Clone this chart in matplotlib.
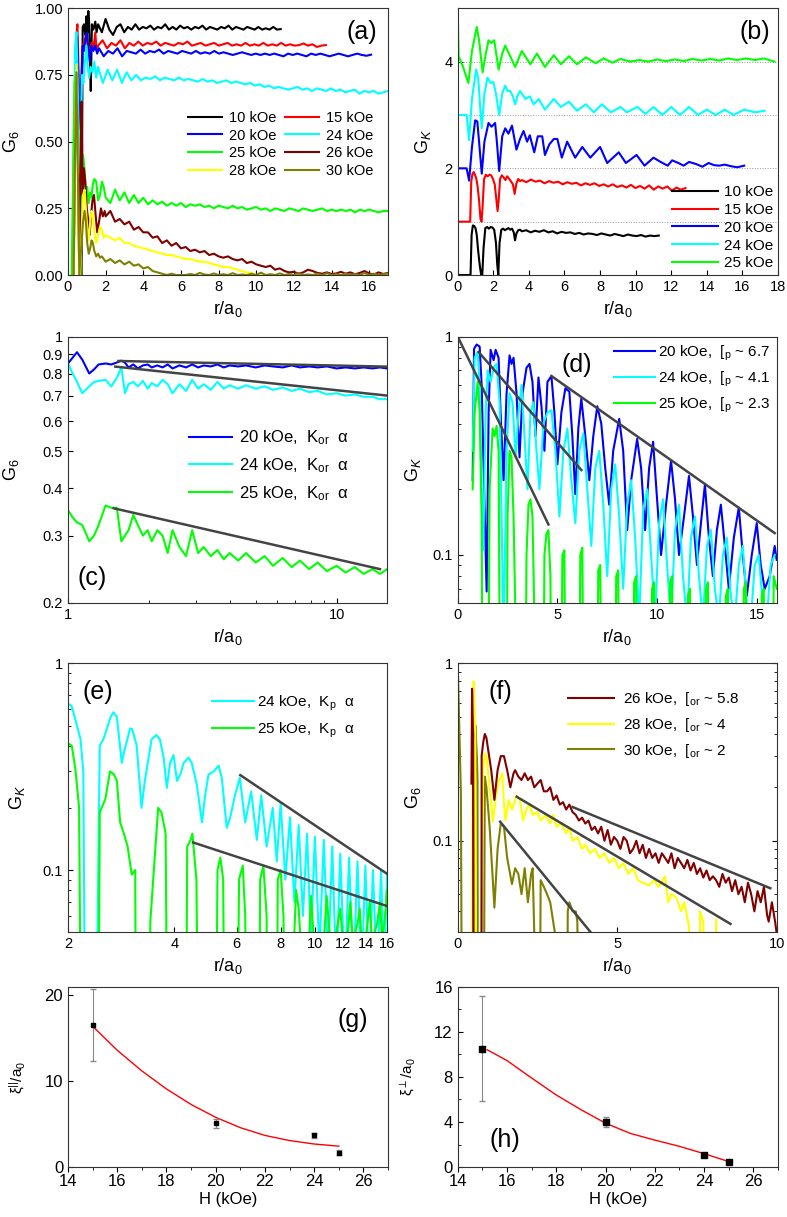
import numpy as np
import matplotlib
matplotlib.use('Agg')
from matplotlib import pyplot as plt
from matplotlib.ticker import FixedLocator, FixedFormatter, NullFormatter, MultipleLocator

plt.rcParams['font.family'] = ['Liberation Sans', 'DejaVu Sans']
plt.rcParams['mathtext.fontset'] = 'custom'
plt.rcParams['mathtext.rm'] = 'Liberation Sans'
plt.rcParams['mathtext.it'] = 'Liberation Sans:italic'
plt.rcParams['xtick.direction'] = 'in'
plt.rcParams['ytick.direction'] = 'in'
plt.rcParams['axes.edgecolor'] = '#333333'
plt.rcParams['xtick.labelsize'] = 10.5
plt.rcParams['ytick.labelsize'] = 10.5

# colours per field
col = {'10': 'black', '15': '#ff0000', '20': '#0000ff', '24': '#00ffff',
       '25': '#00ff00', '26': '#800000', '28': '#ffff00', '30': '#808000'}
fitcol = '#444444'


def trace(hx, hy, x0, x1, ty):
    # explicit head points + evenly spaced read-off tail values
    return list(hx) + list(np.linspace(x0, x1, len(ty))), list(hy) + list(ty)


# ---------------- (a) G6 vs r/a0 ----------------
a10_hx = [0.72, 0.78, 0.85, 0.92, 0.98, 1.03, 1.08, 1.12, 1.17, 1.21, 1.27, 1.35, 1.45, 1.52]
a10_hy = [0.0, 0.93, 0.94, 0.90, 0.97, 0.91, 0.99, 0.95, 0.80, 0.69, 0.94, 0.92, 0.95, 0.91]
a10_ty = [0.94, 0.91, 0.96, 0.92, 0.90, 0.93, 0.94, 0.91, 0.93, 0.92,
          0.94, 0.92, 0.93, 0.925, 0.935, 0.92, 0.93, 0.925, 0.94, 0.92,
          0.93, 0.92, 0.935, 0.925, 0.93, 0.92, 0.93, 0.925, 0.935, 0.92,
          0.93, 0.925, 0.92, 0.93, 0.925, 0.935, 0.92, 0.93, 0.925, 0.92,
          0.93, 0.925, 0.92, 0.93, 0.92, 0.925, 0.92, 0.93, 0.92, 0.922]
a15_hx = [0.28, 0.35, 0.42, 0.5, 0.55, 0.6, 0.68, 0.75, 0.85, 0.95, 1.05, 1.15, 1.25, 1.35, 1.45, 1.52]
a15_hy = [0.0, 0.5, 0.88, 0.94, 0.80, 0.5, 0.6, 0.85, 0.87, 0.90, 0.86, 0.84, 0.87, 0.85, 0.91, 0.84]
a15_ty = [0.86, 0.88, 0.85, 0.87, 0.86, 0.88, 0.85, 0.87, 0.86, 0.875,
          0.86, 0.87, 0.865, 0.875, 0.86, 0.87, 0.865, 0.86, 0.87, 0.865,
          0.875, 0.86, 0.865, 0.87, 0.86, 0.865, 0.87, 0.86, 0.865, 0.87,
          0.86, 0.865, 0.86, 0.87, 0.86, 0.865, 0.86, 0.87, 0.86, 0.865,
          0.86, 0.87, 0.86, 0.865, 0.86, 0.862, 0.868, 0.86, 0.865, 0.855, 0.86, 0.862]
a20_hx = [0.25, 0.32, 0.4, 0.48, 0.55, 0.62, 0.7, 0.78, 0.85, 0.92, 1.0, 1.08, 1.15, 1.25, 1.35, 1.45, 1.55]
a20_hy = [0.0, 0.45, 0.82, 0.90, 0.75, 0.45, 0.70, 0.86, 0.84, 0.88, 0.91, 0.85, 0.80, 0.86, 0.84, 0.86, 0.83]
a20_ty = [0.85, 0.82, 0.84, 0.83, 0.85, 0.82, 0.84, 0.835, 0.83, 0.845,
          0.83, 0.84, 0.835, 0.845, 0.83, 0.84, 0.835, 0.83, 0.84, 0.835,
          0.83, 0.84, 0.83, 0.835, 0.83, 0.84, 0.83, 0.835, 0.83, 0.825,
          0.83, 0.835, 0.83, 0.825, 0.83, 0.825, 0.83, 0.825, 0.83, 0.825,
          0.82, 0.83, 0.825, 0.83, 0.825, 0.82, 0.83, 0.825, 0.83, 0.825,
          0.82, 0.825, 0.83, 0.825, 0.82, 0.825, 0.83, 0.825, 0.822, 0.826]
a24_hx = [0.22, 0.3, 0.38, 0.45, 0.52, 0.6, 0.68, 0.75, 0.82, 0.9, 0.98, 1.05, 1.12, 1.2, 1.3, 1.4, 1.5]
a24_hy = [0.0, 0.5, 0.85, 0.91, 0.70, 0.40, 0.55, 0.75, 0.72, 0.80, 0.86, 0.78, 0.74, 0.78, 0.76, 0.80, 0.74]
a24_ty = [0.78, 0.72, 0.77, 0.73, 0.77, 0.72, 0.76, 0.73, 0.75, 0.73,
          0.74, 0.735, 0.745, 0.73, 0.74, 0.735, 0.73, 0.74, 0.73, 0.735,
          0.73, 0.725, 0.735, 0.725, 0.73, 0.72, 0.725, 0.73, 0.72, 0.725,
          0.72, 0.715, 0.72, 0.71, 0.715, 0.705, 0.71, 0.70, 0.705, 0.70,
          0.695, 0.70, 0.705, 0.695, 0.70, 0.69, 0.70, 0.695, 0.69, 0.70,
          0.69, 0.695, 0.685, 0.69, 0.695, 0.68, 0.69, 0.685, 0.69, 0.68, 0.685, 0.69]
a25_hx = [0.2, 0.28, 0.35, 0.42, 0.5, 0.57, 0.65, 0.72, 0.8, 0.87, 0.95, 1.02, 1.1, 1.18, 1.25, 1.32,
          1.4, 1.5, 1.6, 1.7, 1.8, 1.9]
a25_hy = [0.0, 0.4, 0.72, 0.75, 0.55, 0.2, 0.0, 0.2, 0.45, 0.40, 0.30, 0.33, 0.27, 0.31, 0.29, 0.34,
          0.36, 0.35, 0.28, 0.30, 0.35, 0.33]
a25_ty = [0.29, 0.27, 0.32, 0.28, 0.31, 0.27, 0.30, 0.27, 0.29, 0.265,
          0.28, 0.265, 0.275, 0.26, 0.27, 0.26, 0.27, 0.255, 0.265, 0.26,
          0.265, 0.255, 0.26, 0.25, 0.26, 0.255, 0.25, 0.26, 0.25, 0.255,
          0.245, 0.25, 0.255, 0.245, 0.25, 0.24, 0.25, 0.245, 0.24, 0.25,
          0.245, 0.24, 0.25, 0.245, 0.24, 0.245, 0.25, 0.24, 0.245, 0.24,
          0.245, 0.24, 0.245, 0.235, 0.245, 0.24, 0.245, 0.24, 0.235, 0.24, 0.24]
a26_hx = [0.3, 0.38, 0.45, 0.52, 0.6, 0.66, 0.72, 0.78, 0.85, 0.92, 1.0, 1.08, 1.15, 1.22, 1.3, 1.38,
          1.45, 1.55, 1.65, 1.75, 1.85, 1.95]
a26_hy = [0.0, 0.5, 0.75, 0.50, 0.0, 0.4, 0.65, 0.30, 0.40, 0.35, 0.25, 0.20, 0.15, 0.22, 0.28, 0.30,
          0.24, 0.16, 0.20, 0.25, 0.22, 0.24]
a26_ty = [0.22, 0.24, 0.20, 0.21, 0.19, 0.20, 0.17, 0.18, 0.16, 0.16,
          0.14, 0.145, 0.12, 0.13, 0.11, 0.12, 0.10, 0.105, 0.09, 0.095,
          0.085, 0.09, 0.075, 0.08, 0.07, 0.065, 0.07, 0.06, 0.055, 0.06,
          0.045, 0.05, 0.04, 0.035, 0.03, 0.035, 0.02, 0.025, 0.015, 0.01,
          0.012, 0.005, 0.01, 0.02, 0.015, 0.008, 0.005, 0.01, 0.004, 0.006,
          0.012, 0.005, 0.01, 0.003, 0.008, 0.015, 0.006, 0.002, 0.01, 0.004, 0.008]
a28_hx = [0.3, 0.38, 0.45, 0.52, 0.58, 0.65, 0.72, 0.8, 0.88, 0.95, 1.02, 1.1, 1.18, 1.25, 1.32, 1.4,
          1.5, 1.6, 1.7, 1.8, 1.9]
a28_hy = [0.0, 0.55, 0.79, 0.45, 0.0, 0.0, 0.15, 0.30, 0.32, 0.25, 0.18, 0.13, 0.20, 0.24, 0.22, 0.16,
          0.12, 0.15, 0.18, 0.17, 0.14]
a28_ty = [0.15, 0.14, 0.13, 0.14, 0.12, 0.12, 0.11, 0.105, 0.10, 0.095,
          0.09, 0.085, 0.08, 0.075, 0.075, 0.07, 0.065, 0.06, 0.06, 0.055,
          0.05, 0.05, 0.045, 0.04, 0.035, 0.03, 0.03, 0.025, 0.02, 0.015,
          0.01, 0.008, 0.0, 0.0, 0.0]
a30_hx = [0.3, 0.38, 0.45, 0.52, 0.6, 0.7, 0.8, 0.88, 0.95, 1.02, 1.1, 1.18, 1.25, 1.32, 1.4, 1.5,
          1.6, 1.7, 1.8, 1.9]
a30_hy = [0.0, 0.5, 0.76, 0.40, 0.0, 0.1, 0.20, 0.24, 0.20, 0.12, 0.08, 0.10, 0.13, 0.12, 0.09, 0.07,
          0.08, 0.065, 0.07, 0.06]
a30_ty = [0.05, 0.06, 0.045, 0.055, 0.04, 0.05, 0.035, 0.04, 0.025, 0.03, 0.015, 0.01, 0.005, 0.0,
          0.005, 0.0, 0.0,
          0.0, 0.004, 0.0, 0.008, 0.002, 0.0, 0.006, 0.0, 0.003, 0.0,
          0.007, 0.0, 0.002, 0.0, 0.005, 0.0, 0.009, 0.0, 0.003, 0.0,
          0.006, 0.0, 0.004, 0.0, 0.008, 0.0, 0.002, 0.0, 0.005, 0.0,
          0.007, 0.0, 0.003, 0.0, 0.006, 0.0, 0.004, 0.0, 0.008, 0.0,
          0.005, 0.0, 0.003, 0.006]

# ---------------- (b) GK, offset curves ----------------
b10_hx = [0, 0.72, 0.78, 0.85, 0.92, 1.0, 1.07, 1.15, 1.25, 1.32, 1.38, 1.45, 1.55, 1.65, 1.75, 1.85,
          1.95, 2.05, 2.15, 2.22, 2.28, 2.35, 2.45, 2.55, 2.65, 2.75, 2.85, 2.95, 3.05, 3.15, 3.22,
          3.3, 3.4, 3.5]
b10_hy = [0, 0, 0.75, 0.93, 0.92, 0.88, 0.75, 0.45, 0.15, 0.0, 0.0, 0.5, 0.88, 0.90, 0.87, 0.90,
          0.89, 0.85, 0.6, 0.2, 0.0, 0.6, 0.85, 0.87, 0.84, 0.86, 0.88, 0.85, 0.87, 0.80, 0.65,
          0.78, 0.84, 0.85]
b10_ty = [0.82, 0.84, 0.80, 0.83, 0.81, 0.84, 0.80, 0.82, 0.78, 0.81,
          0.79, 0.80, 0.77, 0.79, 0.76, 0.78, 0.77, 0.75, 0.78, 0.76,
          0.74, 0.77, 0.75, 0.73, 0.76, 0.74, 0.73, 0.75, 0.72, 0.74, 0.73, 0.74]
b15_hx = [0, 0.7, 0.76, 0.83, 0.9, 0.97, 1.05, 1.12, 1.2, 1.28, 1.34, 1.4, 1.48, 1.58, 1.68, 1.78,
          1.88, 1.98, 2.08, 2.16, 2.24, 2.3, 2.38, 2.48, 2.58, 2.68, 2.78, 2.9, 3.0, 3.1, 3.2,
          3.3, 3.4, 3.5]
b15_hy = [1, 1, 1.75, 1.90, 1.93, 1.88, 1.80, 1.65, 1.40, 1.05, 1.0, 1.3, 1.80, 1.88, 1.85, 1.88,
          1.87, 1.80, 1.70, 1.45, 1.20, 1.4, 1.80, 1.87, 1.83, 1.78, 1.85, 1.80, 1.75, 1.70, 1.52,
          1.72, 1.80, 1.76]
b15_ty = [1.78, 1.74, 1.79, 1.75, 1.77, 1.72, 1.76, 1.73, 1.75, 1.70,
          1.74, 1.71, 1.73, 1.68, 1.72, 1.69, 1.72, 1.67, 1.70, 1.66,
          1.70, 1.65, 1.68, 1.64, 1.69, 1.63, 1.67, 1.62, 1.68, 1.60,
          1.66, 1.62, 1.66, 1.58, 1.64, 1.60, 1.63]
b20_x = [0, 0, 0.5, 0.64, 0.8, 0.98, 1.1, 1.2, 1.35, 1.5, 1.73, 1.9, 2.1, 2.2, 2.33, 2.5, 2.67, 2.85,
         3.05, 3.3, 3.5, 3.7, 3.9, 4.05, 4.3, 4.5, 4.75, 4.9, 5.15, 5.4, 5.6, 5.85, 6.15, 6.6, 7.0,
         7.45, 8.0, 8.4, 9.05, 9.45, 10.05, 10.5, 11.0, 11.4, 11.8, 12.05, 12.4, 12.7, 13.0, 13.4,
         13.75, 14.1, 14.4, 14.7, 15.0, 15.35, 15.7, 16.1]
b20_y = [3, 2, 2, 1.77, 2.4, 2.9, 2.88, 2.5, 1.9, 2.5, 2.85, 2.78, 2.85, 2.5, 1.95, 2.6, 2.75, 2.65,
         2.8, 2.35, 2.55, 2.7, 2.5, 2.62, 2.3, 2.6, 2.6, 2.25, 2.45, 2.55, 2.55, 2.2, 2.5, 2.2, 2.4,
         2.2, 2.4, 2.1, 2.3, 2.1, 2.25, 2.05, 2.2, 2.12, 2.05, 2.15, 2.1, 2.05, 2.12, 2.08,
         2.03, 2.1, 2.06, 2.05, 2.07, 2.04, 2.02, 2.05]
b24_x = [0, 0, 0.5, 0.64, 0.8, 1.03, 1.15, 1.25, 1.35, 1.5, 1.67, 1.85, 2.0, 2.15, 2.33, 2.5, 2.67,
         2.8, 2.95, 3.1, 3.23, 3.35, 3.5, 3.8, 4.05, 4.27, 4.55, 4.9, 5.15, 5.4, 5.8, 6.25, 6.7,
         7.2, 7.65, 8.1, 8.6, 9.15, 9.5, 10.1, 10.55, 11.0, 11.5, 12.0, 12.5, 13.0, 13.5, 14.0,
         14.5, 15.0, 15.5, 16.1, 16.7, 17.25]
b24_y = [4, 3, 3, 2.53, 3.3, 3.85, 3.7, 3.2, 2.75, 3.4, 3.7, 3.6, 3.62, 3.4, 3.0, 3.4, 3.55,
         3.45, 3.45, 3.35, 3.2, 3.35, 3.45, 3.3, 3.35, 3.2, 3.3, 3.1, 3.2, 3.3, 3.15, 3.25, 3.08,
         3.2, 3.05, 3.2, 3.05, 3.15, 3.05, 3.15, 3.02, 3.15, 3.0, 3.15, 3.0, 3.15, 3.0, 3.1,
         3.0, 3.1, 3.0, 3.1, 3.05, 3.08]
b25_x = [0, 0.05, 0.3, 0.6, 0.8, 1.07, 1.2, 1.4, 1.55, 1.73, 1.88, 2.05, 2.3, 2.5, 2.67, 2.95, 3.23,
         3.6, 4.08, 4.45, 4.9, 5.4, 5.8, 6.25, 6.7, 7.2, 7.75, 8.2, 8.7, 9.15, 9.7, 10.2, 10.7,
         11.2, 11.7, 12.2, 12.7, 13.2, 13.7, 14.2, 14.7, 15.2, 15.7, 16.2, 16.7, 17.2, 17.8]
b25_y = [5, 4.1, 3.9, 3.6, 4.2, 4.65, 4.4, 3.8, 4.1, 4.4, 4.35, 4.4, 3.85, 4.15, 4.3, 4.1, 3.9,
         4.2, 3.95, 4.15, 3.9, 4.12, 3.95, 4.1, 3.95, 4.08, 3.97, 4.06, 3.98, 4.05, 4.0, 4.03, 4.0,
         4.04, 4.01, 4.04, 4.01, 4.05, 4.02, 4.05, 4.02, 4.06, 4.03, 4.06, 4.03, 4.06, 4.0]
b_offsets = [1, 2, 3, 4]

# ---------------- (c) G6 log-log ----------------
c_r = [1.0, 1.04, 1.08, 1.13, 1.2, 1.25, 1.3, 1.38, 1.45, 1.52, 1.58, 1.63, 1.68, 1.75, 1.82, 1.9,
       1.98, 2.05, 2.15, 2.25, 2.35, 2.45, 2.6, 2.75, 2.9, 3.05, 3.2, 3.4, 3.6, 3.8, 4.0, 4.3, 4.6,
       5.0, 5.4, 5.8, 6.3, 6.8, 7.3, 7.9, 8.5, 9.2, 10.0, 10.8, 11.7, 12.6, 13.6, 14.5, 15.4]
c20 = [0.85, 0.88, 0.91, 0.87, 0.80, 0.82, 0.845, 0.85, 0.845, 0.855, 0.865, 0.855, 0.83, 0.845,
       0.825, 0.84, 0.845, 0.83, 0.84, 0.83, 0.845, 0.825, 0.84, 0.83, 0.845, 0.83, 0.84, 0.835,
       0.845, 0.83, 0.84, 0.835, 0.84, 0.83, 0.84, 0.835, 0.83, 0.84, 0.83, 0.835, 0.83, 0.835,
       0.825, 0.83, 0.825, 0.83, 0.825, 0.83, 0.825]
c24 = [0.85, 0.80, 0.76, 0.71, 0.74, 0.76, 0.765, 0.77, 0.74, 0.78, 0.83, 0.71, 0.75, 0.76, 0.74,
       0.765, 0.73, 0.755, 0.74, 0.77, 0.75, 0.71, 0.75, 0.72, 0.77, 0.73, 0.75, 0.725, 0.76, 0.73,
       0.745, 0.73, 0.745, 0.73, 0.74, 0.725, 0.735, 0.72, 0.73, 0.715, 0.72, 0.705, 0.71, 0.70,
       0.705, 0.695, 0.695, 0.685, 0.685]
c25 = [0.35, 0.335, 0.325, 0.32, 0.29, 0.30, 0.32, 0.36, 0.355, 0.355, 0.29, 0.30, 0.31, 0.34, 0.32,
       0.30, 0.31, 0.29, 0.31, 0.30, 0.27, 0.31, 0.28, 0.265, 0.31, 0.27, 0.28, 0.265, 0.275, 0.26,
       0.27, 0.258, 0.27, 0.255, 0.265, 0.25, 0.262, 0.248, 0.258, 0.245, 0.255, 0.242, 0.25, 0.24,
       0.248, 0.238, 0.245, 0.238, 0.245]
c_fit_r = [[1.54, 15.4], [1.5, 15.4], [1.48, 14.5]]
c_fit_g = [[0.863, 0.834], [0.834, 0.70], [0.354, 0.245]]

# ---------------- (d) GK semilog ----------------
d20_x = [0.75, 0.82, 0.95, 1.1, 1.2, 1.3, 1.45, 1.55, 1.65, 1.8, 1.9, 2.05, 2.15, 2.3, 2.45, 2.6, 2.7,
         2.8, 2.95, 3.1, 3.25, 3.45, 3.6, 3.75, 3.9, 4.05, 4.2, 4.35, 4.5, 4.7, 4.85, 5.0, 5.2, 5.4,
         5.6, 5.75, 5.9, 6.05, 6.2, 6.4, 6.6, 6.8, 7.0, 7.2, 7.4, 7.6, 7.8, 8.1, 8.3, 8.5, 8.7, 9.0,
         9.2, 9.4, 9.6, 9.8, 10.0, 10.2, 10.45, 10.7, 10.9, 11.1, 11.35, 11.6, 11.8, 12.0, 12.2, 12.4,
         12.6, 12.8, 13.0, 13.2, 13.4, 13.6, 13.85, 14.1, 14.3, 14.5, 14.75, 15.0, 15.2, 15.4, 15.65,
         15.9, 16.0]
d20_y = [0.22, 0.88, 0.92, 0.90, 0.60, 0.25, 0.068, 0.45, 0.87, 0.78, 0.87, 0.80, 0.45, 0.22, 0.55,
         0.82, 0.75, 0.80, 0.55, 0.28, 0.55, 0.72, 0.75, 0.62, 0.35, 0.65, 0.48, 0.30, 0.62, 0.66,
         0.45, 0.26, 0.45, 0.58, 0.56, 0.35, 0.19, 0.38, 0.52, 0.35, 0.22, 0.35, 0.48, 0.40, 0.25,
         0.17, 0.30, 0.42, 0.30, 0.13, 0.22, 0.34, 0.25, 0.13, 0.25, 0.33, 0.18, 0.10, 0.17, 0.27,
         0.18, 0.10, 0.15, 0.23, 0.15, 0.09, 0.14, 0.21, 0.12, 0.08, 0.13, 0.17, 0.11, 0.07, 0.12,
         0.165, 0.10, 0.065, 0.10, 0.14, 0.09, 0.07, 0.08, 0.11, 0.095]
d24_hx = [0.75, 0.85, 1.0, 1.1, 1.2, 1.28, 1.4, 1.5, 1.65, 1.8, 1.95, 2.1, 2.2, 2.3, 2.45, 2.6, 2.75,
          2.9, 3.05, 3.2, 3.35, 3.5, 3.65, 3.8, 3.95, 4.1]
d24_hy = [0.3, 0.8, 0.85, 0.6, 0.2, 0.105, 0.45, 0.7, 0.62, 0.72, 0.75, 0.5, 0.15, 0.04, 0.3, 0.55,
          0.5, 0.28, 0.45, 0.6, 0.35, 0.2, 0.45, 0.5, 0.3, 0.2]
d24_ty = [0.4, 0.45, 0.46, 0.3, 0.15, 0.3, 0.38, 0.22, 0.14, 0.3,
          0.36, 0.2, 0.11, 0.25, 0.3, 0.17, 0.08, 0.2, 0.26, 0.15,
          0.07, 0.17, 0.22, 0.12, 0.05, 0.16, 0.2, 0.1, 0.05, 0.14,
          0.18, 0.09, 0.05, 0.13, 0.17, 0.08, 0.05, 0.12, 0.15, 0.08,
          0.05, 0.11, 0.13, 0.07, 0.05, 0.1, 0.12, 0.065, 0.05, 0.09,
          0.11, 0.06, 0.05, 0.09, 0.1, 0.06, 0.05, 0.09, 0.1]
d25_x = [0.75, 0.85, 1.0, 1.1, 1.2, 1.3, 1.45, 1.6, 1.75, 1.85, 1.95, 2.05, 2.2, 2.4, 2.5, 2.6, 2.7,
         2.8, 2.9, 3.0, 3.3, 3.45, 3.55, 3.65, 3.75, 3.85, 4.2, 4.35, 4.45, 4.55, 4.65, 4.8,
         5.1, 5.25, 5.35, 5.5, 6.0, 6.15, 6.25, 6.4, 6.9, 7.05, 7.15, 7.3, 7.8, 7.95, 8.05, 8.2,
         8.7, 8.85, 8.95, 9.1, 9.6, 9.75, 9.85, 10.0, 10.5, 10.65, 10.75, 10.9, 11.4, 11.55, 11.65,
         11.8, 12.3, 12.45, 12.55, 12.7, 13.3, 13.45, 13.55, 13.7, 14.2, 14.35, 14.45, 14.6,
         15.1, 15.25, 15.35, 15.5, 15.7, 15.85, 16.0]
d25_y = [0.2, 0.45, 0.62, 0.45, 0.15, 0.001, 0.001, 0.2, 0.38, 0.35, 0.39, 0.3, 0.001, 0.001, 0.15,
         0.3, 0.28, 0.15, 0.05, 0.001, 0.001, 0.1, 0.17, 0.18, 0.15, 0.05, 0.001, 0.1, 0.125, 0.13,
         0.08, 0.001,
         0.001, 0.1, 0.105, 0.001, 0.001, 0.1, 0.108, 0.001, 0.001, 0.085, 0.09, 0.001,
         0.001, 0.08, 0.085, 0.001, 0.001, 0.075, 0.08, 0.001, 0.001, 0.07, 0.075, 0.001,
         0.001, 0.075, 0.08, 0.001, 0.001, 0.065, 0.07, 0.001, 0.001, 0.07, 0.075, 0.001,
         0.001, 0.065, 0.07, 0.001, 0.001, 0.07, 0.075, 0.001, 0.001, 0.065, 0.07, 0.001,
         0.001, 0.08, 0.07]
d_fit_r = [[0.0, 4.55], [1.05, 6.2], [4.7, 15.9]]
d_fit_g = [[1.0, 0.138], [0.85, 0.245], [0.66, 0.126]]

# ---------------- (e) GK log-log ----------------
e24_x = [2.0, 2.05, 2.12, 2.17, 2.21, 2.26, 2.36, 2.46, 2.52, 2.64, 2.69, 2.75, 2.84, 2.89, 3.0,
         3.04, 3.13, 3.23, 3.3, 3.45, 3.56, 3.64, 3.73, 3.81, 3.89, 3.98, 4.07, 4.16, 4.25, 4.39,
         4.48, 4.63, 4.79, 4.89, 5.0, 5.17, 5.34, 5.45, 5.63, 5.76, 5.94, 6.13, 6.35, 6.6, 6.85,
         7.05, 7.3, 7.6, 7.8, 8.0, 8.25, 8.5, 8.75, 9.0, 9.25, 9.5, 9.75, 10.0, 10.3, 10.6, 10.9,
         11.2, 11.5, 11.8, 12.15, 12.5, 12.85, 13.2, 13.55, 13.9, 14.25, 14.6, 15.0, 15.4, 15.7, 16.0]
e24_y = [0.64, 0.62, 0.50, 0.43, 0.30, 0.001, 0.001, 0.40, 0.43, 0.55, 0.58, 0.55, 0.33, 0.38,
         0.485, 0.48, 0.40, 0.20, 0.27, 0.43, 0.45, 0.43, 0.35, 0.25, 0.33, 0.36, 0.27, 0.29, 0.33,
         0.35, 0.33, 0.26, 0.17, 0.23, 0.29, 0.30, 0.32, 0.28, 0.16, 0.18, 0.23, 0.28, 0.17, 0.24,
         0.14, 0.23, 0.13, 0.20, 0.11, 0.21, 0.09, 0.18, 0.07, 0.165, 0.06, 0.15, 0.045, 0.145,
         0.04, 0.14, 0.035, 0.13, 0.03, 0.12, 0.03, 0.115, 0.03, 0.11, 0.03, 0.105, 0.03, 0.10,
         0.03, 0.10, 0.03, 0.095]
e25_pts = [(2.0, 0.41), (2.05, 0.4), (2.1, 0.305), (2.15, 0.2), (2.2, 0.001), (2.42, 0.001),
           (2.46, 0.19), (2.55, 0.22), (2.63, 0.30), (2.7, 0.29), (2.75, 0.27), (2.81, 0.17),
           (2.88, 0.15), (2.95, 0.13), (3.03, 0.095), (3.1, 0.1), (3.13, 0.001), (3.41, 0.001),
           (3.42, 0.056), (3.5, 0.1), (3.6, 0.2), (3.68, 0.19), (3.78, 0.15), (3.86, 0.001),
           (4.29, 0.001), (4.35, 0.13), (4.45, 0.14), (4.5, 0.15), (4.62, 0.09), (4.74, 0.001),
           (5.2, 0.001), (5.3, 0.1), (5.4, 0.115), (5.5, 0.09), (5.6, 0.001), (5.95, 0.001),
           (6.1, 0.09), (6.25, 0.105), (6.35, 0.06), (6.5, 0.001), (6.9, 0.001), (7.0, 0.09),
           (7.15, 0.105), (7.3, 0.06), (7.4, 0.001), (7.75, 0.001), (7.85, 0.09), (8.0, 0.1),
           (8.15, 0.06), (8.3, 0.001), (8.7, 0.04), (8.85, 0.08), (9.0, 0.065), (9.15, 0.04),
           (9.6, 0.04), (9.75, 0.075), (9.9, 0.05), (10.1, 0.04), (10.6, 0.045), (10.8, 0.075),
           (11.0, 0.05), (11.3, 0.04), (11.6, 0.055), (11.8, 0.065), (12.0, 0.045), (12.4, 0.05),
           (12.6, 0.07), (12.8, 0.045), (13.2, 0.055), (13.4, 0.065), (13.6, 0.04), (14.0, 0.05),
           (14.3, 0.07), (14.5, 0.045), (15.0, 0.055), (15.3, 0.07), (15.5, 0.045), (15.8, 0.06),
           (16.0, 0.08)]
e_fit_r = [[6.15, 16.0], [4.52, 16.0]]
e_fit_g = [[0.288, 0.096], [0.136, 0.067]]

# ---------------- (f) G6 semilog ----------------
f26_pts = [(0.43, 0.21), (0.45, 0.72), (0.48, 0.4), (0.5, 0.001), (0.74, 0.001), (0.75, 0.3),
           (0.8, 0.36), (0.85, 0.4), (0.9, 0.38), (0.95, 0.33), (1.05, 0.25), (1.15, 0.17),
           (1.25, 0.25), (1.35, 0.3), (1.45, 0.3), (1.55, 0.25), (1.65, 0.2), (1.75, 0.24),
           (1.8, 0.25), (1.9, 0.23), (2.0, 0.22), (2.1, 0.24), (2.2, 0.22), (2.3, 0.23), (2.4, 0.2),
           (2.5, 0.21), (2.6, 0.22), (2.7, 0.19), (2.8, 0.19), (2.9, 0.2), (3.0, 0.17), (3.1, 0.18),
           (3.2, 0.16), (3.3, 0.165), (3.4, 0.15), (3.5, 0.16), (3.6, 0.145), (3.7, 0.14),
           (3.8, 0.13), (3.9, 0.135), (4.0, 0.125), (4.1, 0.13), (4.2, 0.115), (4.3, 0.12),
           (4.4, 0.11), (4.5, 0.12), (4.6, 0.1), (4.7, 0.115), (4.8, 0.095), (4.9, 0.105),
           (5.0, 0.1), (5.1, 0.09), (5.2, 0.105), (5.3, 0.1), (5.4, 0.085), (5.5, 0.09), (5.6, 0.1),
           (5.7, 0.085), (5.8, 0.095), (5.9, 0.08), (6.0, 0.09), (6.1, 0.08), (6.2, 0.085),
           (6.3, 0.075), (6.4, 0.085), (6.5, 0.08), (6.6, 0.075), (6.7, 0.085), (6.8, 0.07),
           (6.9, 0.08), (7.0, 0.075), (7.1, 0.07), (7.2, 0.078), (7.3, 0.068), (7.4, 0.075),
           (7.5, 0.065), (7.6, 0.07), (7.7, 0.062), (7.8, 0.068), (7.9, 0.06), (8.0, 0.063),
           (8.1, 0.06), (8.2, 0.055), (8.3, 0.065), (8.4, 0.058), (8.5, 0.062), (8.6, 0.052),
           (8.7, 0.06), (8.8, 0.05), (8.9, 0.055), (9.0, 0.045), (9.1, 0.058), (9.2, 0.05),
           (9.3, 0.04), (9.4, 0.052), (9.5, 0.045), (9.6, 0.055), (9.7, 0.038), (9.75, 0.035),
           (9.85, 0.045), (9.95, 0.035), (10.0, 0.03)]
f28_pts = [(0.45, 0.001), (0.47, 0.4), (0.5, 0.79), (0.52, 0.6), (0.55, 0.4), (0.58, 0.001),
           (0.72, 0.001), (0.75, 0.078), (0.8, 0.25), (0.85, 0.31), (0.9, 0.3), (1.0, 0.2),
           (1.1, 0.128), (1.2, 0.18), (1.3, 0.22), (1.4, 0.24), (1.45, 0.16), (1.5, 0.13),
           (1.6, 0.17), (1.7, 0.15), (1.85, 0.18), (1.95, 0.17), (2.05, 0.13), (2.15, 0.15),
           (2.25, 0.16), (2.35, 0.14), (2.5, 0.145), (2.6, 0.13), (2.75, 0.14), (2.9, 0.125),
           (3.0, 0.14), (3.1, 0.12), (3.25, 0.125), (3.4, 0.11), (3.5, 0.12), (3.6, 0.1),
           (3.75, 0.105), (3.9, 0.09), (4.0, 0.095), (4.15, 0.085), (4.3, 0.09), (4.45, 0.08),
           (4.6, 0.085), (4.75, 0.075), (4.9, 0.08), (5.05, 0.07), (5.2, 0.075), (5.35, 0.065),
           (5.5, 0.07), (5.65, 0.06), (5.8, 0.058), (6.0, 0.056), (6.15, 0.06), (6.3, 0.055),
           (6.5, 0.063), (6.6, 0.045), (6.7, 0.05), (6.85, 0.048), (7.0, 0.04), (7.1, 0.045),
           (7.25, 0.033), (7.3, 0.001), (7.55, 0.001), (7.6, 0.04), (7.7, 0.035), (7.75, 0.001),
           (8.05, 0.001), (8.1, 0.036), (8.15, 0.001)]
f30_pts = [(0.0, 1.5), (0.0, 1.0), (0.1, 0.185), (0.15, 0.001), (0.52, 0.001), (0.55, 0.45),
           (0.6, 0.3), (0.62, 0.22), (0.64, 0.001), (0.8, 0.001), (0.85, 0.23), (0.9, 0.2),
           (1.0, 0.12), (1.1, 0.06), (1.15, 0.042), (1.25, 0.09), (1.35, 0.125), (1.45, 0.12),
           (1.55, 0.08), (1.7, 0.057), (1.8, 0.07), (1.9, 0.065), (2.0, 0.05), (2.1, 0.07),
           (2.2, 0.045), (2.3, 0.065), (2.35, 0.07), (2.4, 0.03), (2.45, 0.001), (2.55, 0.001),
           (2.6, 0.06), (2.7, 0.055), (2.8, 0.05), (2.9, 0.045), (3.05, 0.03), (3.1, 0.001),
           (3.4, 0.001), (3.45, 0.04), (3.5, 0.045), (3.6, 0.04), (3.7, 0.04), (3.75, 0.035),
           (3.85, 0.001)]
f_fit_r = [[3.6, 9.8], [1.85, 8.55], [1.33, 4.2]]
f_fit_g = [[0.155, 0.054], [0.177, 0.034], [0.128, 0.03]]

# ---------------- (g), (h) correlation lengths ----------------
H = [15, 20, 24, 25]
xi_par = [16.5, 5.1, 3.7, 1.7]
xi_par_err = [4.2, 0.5, 0.3, 0.3]
g_fit_H = [15, 16, 17, 18, 19, 20, 21, 22, 23, 24, 25]
g_fit = [16.4, 13.6, 11.2, 9.1, 7.3, 5.8, 4.6, 3.7, 3.1, 2.7, 2.45]
xi_perp = [10.5, 4.0, 1.1, 0.5]
xi_perp_err = [4.65, 0.45, 0.1, 0.1]
h_fit_H = [15.2, 16, 17, 18, 19, 20, 21, 22, 23, 24, 25]
h_fit = [10.4, 9.45, 7.9, 6.4, 5.1, 3.9, 3.0, 2.4, 1.85, 1.2, 0.5]

# ================= figure =================
fig = plt.figure(figsize=(7.87, 12.17), dpi=100)
L1, L2 = 0.0864, 0.5816
ax_a = fig.add_axes([L1, 0.774, 0.4066, 0.2192])
ax_b = fig.add_axes([L2, 0.774, 0.407, 0.2192])
ax_c = fig.add_axes([L1, 0.5048, 0.4053, 0.2186])
ax_d = fig.add_axes([L2, 0.5048, 0.4053, 0.2186])
ax_e = fig.add_axes([L1, 0.2344, 0.4053, 0.2205])
ax_f = fig.add_axes([L2, 0.2344, 0.4053, 0.2205])
ax_g = fig.add_axes([L1, 0.0409, 0.4066, 0.1484])
ax_h = fig.add_axes([L2, 0.0409, 0.407, 0.1484])

lw = 1.5
LAB = 13
PAN = 18
xl = 'r/a$_0$'


def panel(ax, s, x, y, ha='center'):
    ax.text(x, y, s, transform=ax.transAxes, fontsize=PAN, ha=ha, va='center')


# (a)
lines_a = {}
for key, hx, hy, x0, x1, ty in [('10', a10_hx, a10_hy, 1.6, 11.3, a10_ty),
                                ('15', a15_hx, a15_hy, 1.6, 13.7, a15_ty),
                                ('20', a20_hx, a20_hy, 1.65, 16.1, a20_ty),
                                ('24', a24_hx, a24_hy, 1.6, 17.0, a24_ty),
                                ('25', a25_hx, a25_hy, 2.0, 17.0, a25_ty),
                                ('26', a26_hx, a26_hy, 2.0, 17.0, a26_ty),
                                ('28', a28_hx, a28_hy, 2.0, 10.5, a28_ty),
                                ('30', a30_hx, a30_hy, 2.0, 17.0, a30_ty)]:
    xs, ys = trace(hx, hy, x0, x1, ty)
    lines_a[key], = ax_a.plot(xs, ys, color=col[key], lw=lw, label=key + ' kOe')
order = ['10', '20', '25', '28', '15', '24', '26', '30']
ax_a.legend([lines_a[k] for k in order], [k + ' kOe' for k in order], ncol=2, frameon=False,
            loc='center', bbox_to_anchor=(0.665, 0.49), fontsize=10.5, handlelength=2.3,
            handletextpad=0.5, columnspacing=0.6, labelspacing=0.25)
ax_a.set_xlim(0, 17)
ax_a.set_ylim(0, 1)
ax_a.xaxis.set_major_locator(MultipleLocator(2))
ax_a.set_yticks([0, 0.25, 0.5, 0.75, 1.0])
ax_a.set_yticklabels(['0.00', '0.25', '0.50', '0.75', '1.00'])
ax_a.set_ylabel('G$_6$', fontsize=LAB)
ax_a.yaxis.set_label_coords(-0.147, 0.5)
ax_a.set_xlabel(xl, fontsize=LAB)
panel(ax_a, '(a)', 0.919, 0.911)

# (b)
for off in b_offsets:
    ax_b.axhline(off, color='#999999', lw=0.7, ls=':')
b10x, b10y = trace(b10_hx, b10_hy, 3.6, 11.3, b10_ty)
b15x, b15y = trace(b15_hx, b15_hy, 3.6, 12.8, b15_ty)
ax_b.plot(b10x, b10y, color=col['10'], lw=lw, label='10 kOe')
ax_b.plot(b15x, b15y, color=col['15'], lw=lw, label='15 kOe')
ax_b.plot(b20_x, b20_y, color=col['20'], lw=lw, label='20 kOe')
ax_b.plot(b24_x, b24_y, color=col['24'], lw=lw, label='24 kOe')
ax_b.plot(b25_x, b25_y, color=col['25'], lw=lw, label='25 kOe')
ax_b.legend(loc='lower right', frameon=False, fontsize=11, handlelength=3.0, handletextpad=0.4,
            labelspacing=0.25, borderaxespad=0.1, borderpad=0.2)
ax_b.set_xlim(0, 18)
ax_b.set_ylim(0, 5)
ax_b.xaxis.set_major_locator(MultipleLocator(2))
ax_b.set_yticks([0, 2, 4])
ax_b.set_ylabel('G$_K$', fontsize=LAB)
ax_b.yaxis.set_label_coords(-0.077, 0.5)
ax_b.set_xlabel(xl, fontsize=LAB)
panel(ax_b, '(b)', 0.928, 0.911)

# (c)
ax_c.plot(c_r, c20, color=col['20'], lw=lw, label=r'20 kOe,  K$_{\mathrm{or}}$  α')
ax_c.plot(c_r, c24, color=col['24'], lw=lw, label=r'24 kOe,  K$_{\mathrm{or}}$  α')
ax_c.plot(c_r, c25, color=col['25'], lw=lw, label=r'25 kOe,  K$_{\mathrm{or}}$  α')
for fr, fg in zip(c_fit_r, c_fit_g):
    ax_c.plot(fr, fg, color=fitcol, lw=1.8)
ax_c.set_xscale('log')
ax_c.set_yscale('log')
ax_c.set_xlim(1, 15.4)
ax_c.set_ylim(0.2, 1)
cyt = [0.2, 0.3, 0.4, 0.5, 0.6, 0.7, 0.8, 0.9, 1.0]
ax_c.yaxis.set_major_locator(FixedLocator(cyt))
ax_c.yaxis.set_major_formatter(FixedFormatter(['0.2', '0.3', '0.4', '0.5', '0.6', '0.7', '0.8', '0.9', '1']))
ax_c.yaxis.set_minor_formatter(NullFormatter())
ax_c.yaxis.set_minor_locator(FixedLocator([]))
ax_c.xaxis.set_major_locator(FixedLocator([1, 10]))
ax_c.xaxis.set_major_formatter(FixedFormatter(['1', '10']))
ax_c.xaxis.set_minor_formatter(NullFormatter())
ax_c.legend(loc='center', bbox_to_anchor=(0.63, 0.515), frameon=False, fontsize=12,
            handlelength=2.6, handletextpad=0.4, labelspacing=0.55)
ax_c.set_ylabel('G$_6$', fontsize=LAB)
ax_c.yaxis.set_label_coords(-0.147, 0.5)
ax_c.set_xlabel(xl, fontsize=LAB)
panel(ax_c, '(c)', 0.075, 0.093)

# (d)
d24x, d24y = trace(d24_hx, d24_hy, 4.3, 15.9, d24_ty)
ax_d.plot(d20_x, d20_y, color=col['20'], lw=lw, label=r'20 kOe,  [$_{\mathrm{p}}$ ~ 6.7')
ax_d.plot(d24x, d24y, color=col['24'], lw=lw, label=r'24 kOe,  [$_{\mathrm{p}}$ ~ 4.1')
ax_d.plot(d25_x, d25_y, color=col['25'], lw=lw, label=r'25 kOe,  [$_{\mathrm{p}}$ ~ 2.3')
for fr, fg in zip(d_fit_r, d_fit_g):
    ax_d.plot(fr, fg, color=fitcol, lw=1.8)
ax_d.set_yscale('log')
ax_d.set_xlim(0, 16)
ax_d.set_ylim(0.0605, 1)
ax_d.set_xticks([0, 5, 10, 15])
ax_d.yaxis.set_major_locator(FixedLocator([0.1, 1]))
ax_d.yaxis.set_major_formatter(FixedFormatter(['0.1', '1']))
ax_d.yaxis.set_minor_formatter(NullFormatter())
ax_d.legend(loc='center', bbox_to_anchor=(0.735, 0.84), frameon=False, fontsize=11,
            handlelength=2.7, handletextpad=0.2, labelspacing=0.45)
ax_d.set_ylabel('G$_K$', fontsize=LAB)
ax_d.yaxis.set_label_coords(-0.108, 0.5)
ax_d.set_xlabel(xl, fontsize=LAB)
panel(ax_d, '(d)', 0.374, 0.894)

# (e)
e25_x, e25_y = zip(*e25_pts)
ax_e.plot(e24_x, e24_y, color=col['24'], lw=lw, label=r'24 kOe,  K$_{\mathrm{p}}$  α')
ax_e.plot(e25_x, e25_y, color=col['25'], lw=lw, label=r'25 kOe,  K$_{\mathrm{p}}$  α')
for fr, fg in zip(e_fit_r, e_fit_g):
    ax_e.plot(fr, fg, color=fitcol, lw=1.8)
ax_e.set_xscale('log')
ax_e.set_yscale('log')
ax_e.set_xlim(2, 16)
ax_e.set_ylim(0.0503, 1)
ax_e.xaxis.set_major_locator(FixedLocator([2, 4, 6, 8, 10, 12, 14, 16]))
ax_e.xaxis.set_major_formatter(FixedFormatter(['2', '4', '6', '8', '10', '12', '14', '16']))
ax_e.xaxis.set_minor_locator(FixedLocator([]))
ax_e.xaxis.set_minor_formatter(NullFormatter())
ax_e.yaxis.set_major_locator(FixedLocator([0.1, 1]))
ax_e.yaxis.set_major_formatter(FixedFormatter(['0.1', '1']))
ax_e.yaxis.set_minor_formatter(NullFormatter())
ax_e.legend(loc='center', bbox_to_anchor=(0.675, 0.80), frameon=False, fontsize=11,
            handlelength=2.7, handletextpad=0.2, labelspacing=0.5)
ax_e.set_ylabel('G$_K$', fontsize=LAB)
ax_e.yaxis.set_label_coords(-0.128, 0.5)
ax_e.set_xlabel(xl, fontsize=LAB)
panel(ax_e, '(e)', 0.094, 0.893)

# (f)
f26_x, f26_y = zip(*f26_pts)
f28_x, f28_y = zip(*f28_pts)
f30_x, f30_y = zip(*f30_pts)
ax_f.plot(f30_x, f30_y, color=col['30'], lw=lw)
ax_f.plot(f28_x, f28_y, color=col['28'], lw=lw)
ax_f.plot(f26_x, f26_y, color=col['26'], lw=lw)
h26, = ax_f.plot([], [], color=col['26'], lw=lw)
h28, = ax_f.plot([], [], color=col['28'], lw=lw)
h30, = ax_f.plot([], [], color=col['30'], lw=lw)
for fr, fg in zip(f_fit_r, f_fit_g):
    ax_f.plot(fr, fg, color=fitcol, lw=1.8)
ax_f.set_yscale('log')
ax_f.set_xlim(0, 10)
ax_f.set_ylim(0.0307, 1)
ax_f.set_xticks([0, 5, 10])
ax_f.yaxis.set_major_locator(FixedLocator([0.1, 1]))
ax_f.yaxis.set_major_formatter(FixedFormatter(['0.1', '1']))
ax_f.yaxis.set_minor_formatter(NullFormatter())
ax_f.tick_params(axis='y', which='both', right=True)
ax_f.legend([h26, h28, h30], [r'26 kOe,  [$_{\mathrm{or}}$ ~ 5.8', r'28 kOe,  [$_{\mathrm{or}}$ ~ 4',
                              r'30 kOe,  [$_{\mathrm{or}}$ ~ 2'],
            loc='center', bbox_to_anchor=(0.615, 0.77), frameon=False, fontsize=11,
            handlelength=3.0, handletextpad=0.6, labelspacing=0.5)
ax_f.set_ylabel('G$_6$', fontsize=LAB)
ax_f.yaxis.set_label_coords(-0.108, 0.5)
ax_f.set_xlabel(xl, fontsize=LAB)
panel(ax_f, '(f)', 0.133, 0.893)

# (g)
ax_g.plot(g_fit_H, g_fit, color='red', lw=1)
ax_g.errorbar(H, xi_par, yerr=xi_par_err, fmt='s', color='black', ms=2.5, ecolor='#888888',
              elinewidth=0.8, capsize=2)
ax_g.set_xlim(14, 27)
ax_g.set_ylim(0, 21)
ax_g.xaxis.set_major_locator(MultipleLocator(2))
ax_g.xaxis.set_minor_locator(MultipleLocator(1))
ax_g.set_yticks([0, 10, 20])
ax_g.set_ylabel(r'ξ$^{||}$/a$_0$', fontsize=11)
ax_g.yaxis.set_label_coords(-0.128, 0.5)
ax_g.set_xlabel('H (kOe)', fontsize=12)
panel(ax_g, '(g)', 0.89, 0.816)

# (h)
ax_h.plot(h_fit_H, h_fit, color='red', lw=1)
ax_h.errorbar(H, xi_perp, yerr=xi_perp_err, fmt='s', color='black', ms=4, ecolor='#888888',
              elinewidth=0.8, capsize=2)
ax_h.set_xlim(14, 27)
ax_h.set_ylim(0, 16)
ax_h.xaxis.set_major_locator(MultipleLocator(2))
ax_h.xaxis.set_minor_locator(MultipleLocator(1))
ax_h.set_yticks([0, 4, 8, 12, 16])
ax_h.yaxis.set_minor_locator(MultipleLocator(2))
ax_h.set_ylabel(r'ξ$^{\perp}$/a$_0$', fontsize=11)
ax_h.yaxis.set_label_coords(-0.124, 0.5)
ax_h.set_xlabel('H (kOe)', fontsize=12)
panel(ax_h, '(h)', 0.10, 0.15, ha='left')

for ax in [ax_g, ax_h]:
    ax.tick_params(axis='x', which='both', direction='out', labelsize=12, pad=1.5)
    ax.tick_params(axis='x', which='major', length=3.5)
    ax.tick_params(axis='x', which='minor', length=2)
    ax.tick_params(axis='y', labelsize=12)
    ax.xaxis.labelpad = 2

for ax in [ax_a, ax_b, ax_c, ax_d, ax_e, ax_f, ax_g, ax_h]:
    for sp in ax.spines.values():
        sp.set_linewidth(0.8)

fig.savefig('out.png', dpi=100)
